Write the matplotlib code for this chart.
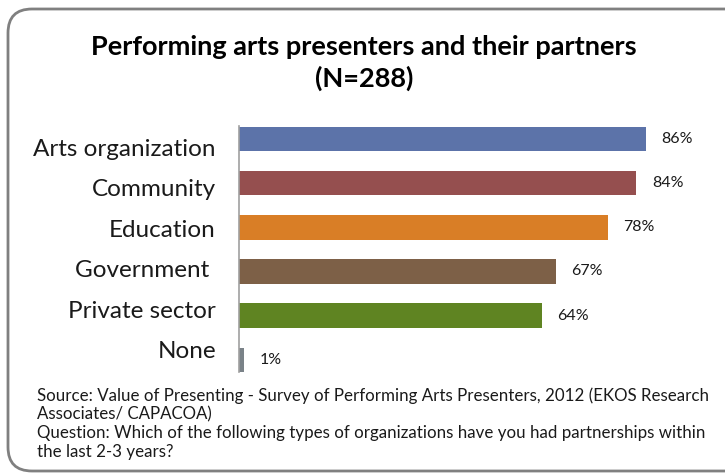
import matplotlib.pyplot as plt
from matplotlib.patches import FancyBboxPatch

# Data
categories = ["Arts organization", "Community", "Education", "Government ", "Private sector", "None"]
values = [86, 84, 78, 67, 64, 1]
bar_colors = ["#5C73A9", "#954F4F", "#D97E26", "#7D6047", "#5F8422", "#7A8288"]

title = "Performing arts presenters and their partners\n(N=288)"
note = ("Source: Value of Presenting - Survey of Performing Arts Presenters, 2012 (EKOS Research\n"
        "Associates/ CAPACOA)\n"
        "Question: Which of the following types of organizations have you had partnerships within\n"
        "the last 2-3 years?")

plt.rcParams['font.family'] = ['Lato', 'DejaVu Sans']

W, H = 725, 474
fig = plt.figure(figsize=(W / 100, H / 100), dpi=100)

# Background axes in pixel units for the rounded frame and the text labels
bg = fig.add_axes([0, 0, 1, 1], zorder=-1)
bg.set_xlim(0, W)
bg.set_ylim(H, 0)
bg.axis("off")
frame = FancyBboxPatch((8, 9), 745, 462, boxstyle="round,pad=0,rounding_size=24",
                       facecolor="white", edgecolor="#808080", linewidth=2)
bg.add_patch(frame)

# Plot area: left=239, right=712, top=126, bottom=372 (pixels)
ax = fig.add_axes([239 / W, 1 - 372 / H, (712 - 239) / W, (372 - 126) / H])
ax.set_facecolor("none")
y = list(range(len(categories)))
ax.barh(y, values, height=0.55, color=bar_colors)
ax.set_xlim(0, 100)
ax.set_ylim(5.28, -0.3)

for yi, v in zip(y, values):
    ax.text(v + 3.3, yi, f"{v}%", va="center", ha="left", fontsize=11.5, color="#1a1a1a")

ax.set_xticks([])
ax.set_yticks([])
for s in ["top", "right", "bottom"]:
    ax.spines[s].set_visible(False)
ax.spines["left"].set_color("#A0A0A0")
ax.spines["left"].set_linewidth(1.2)

# Category labels sit in their own text block, slightly tighter than the bars
for i, cat in enumerate(categories):
    bg.text(216, 149 + i * 40.5, cat, ha="right", va="center", fontsize=17.5, color="#1a1a1a")

bg.text(364, 63, title, ha="center", va="center",
        fontsize=19.5, fontweight="bold", linespacing=1.3)

bg.text(37, 387, note, ha="left", va="top", fontsize=12.2,
        linespacing=1.2, color="#1a1a1a")

fig.savefig("out.png", dpi=100)
